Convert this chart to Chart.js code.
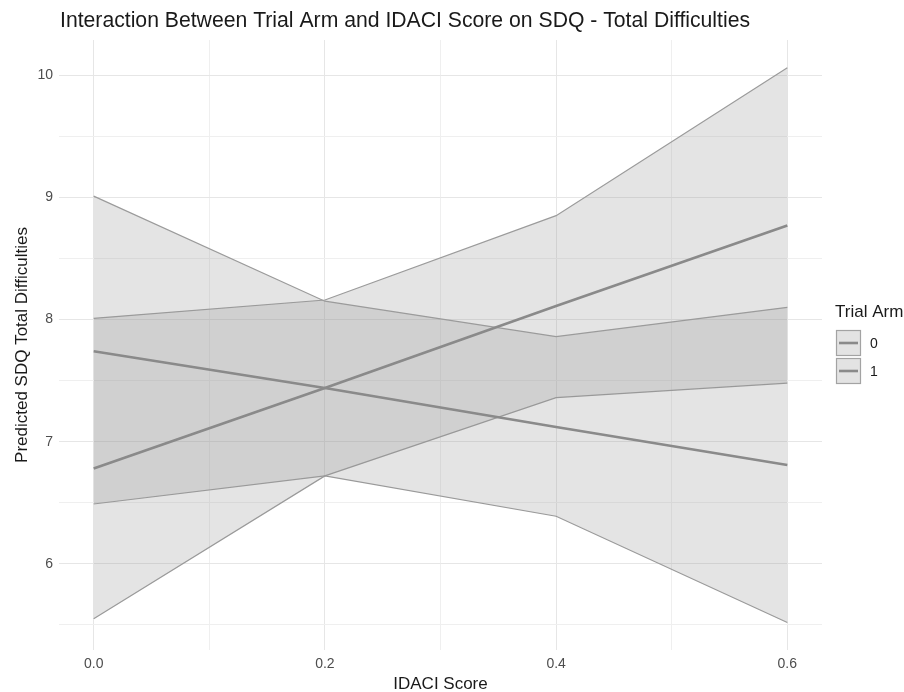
<!DOCTYPE html>
<html>
<head>
<meta charset="utf-8">
<script src="https://cdn.jsdelivr.net/npm/chart.js@4.4.1/dist/chart.umd.min.js"></script>
<style>
  body { margin: 0; background: #fff; }
  canvas { display: block; }
</style>
</head>
<body>
<canvas id="chart" width="904" height="692"></canvas>
<script>
// values
const idaci = [0, 0.2, 0.4, 0.6];
const arm0Fit = [7.74, 7.44, 7.12, 6.81];
const arm0Upper = [9.01, 8.15, 7.86, 8.10];
const arm0Lower = [6.49, 6.72, 6.39, 5.52];
const arm1Fit = [6.78, 7.44, 8.11, 8.77];
const arm1Upper = [8.01, 8.16, 8.85, 10.06];
const arm1Lower = [5.55, 6.72, 7.36, 7.48];

const armLabels = ['0', '1'];
const xGrid = [0, 0.1, 0.2, 0.3, 0.4, 0.5, 0.6];
const xTickLabels = ['0.0', '', '0.2', '', '0.4', '', '0.6'];
const yGrid = [5.5, 6, 6.5, 7, 7.5, 8, 8.5, 9, 9.5, 10];
const yTickLabels = ['', '6', '', '7', '', '8', '', '9', '', '10'];

const FONT = "'Liberation Sans', Arial, sans-serif";
const bandFill = 'rgba(151, 151, 151, 0.26)';
const bandEdge = '#9b9b9b';
const fitColor = '#8a8a8a';

function pts(ys) {
    return idaci.map((x, i) => ({ x: x, y: ys[i] }));
}

function band(ys, fillTarget) {
    return {
        data: pts(ys),
        borderColor: bandEdge,
        borderWidth: 1.2,
        backgroundColor: bandFill,
        pointRadius: 0,
        tension: 0,
        fill: fillTarget
    };
}

function fitLine(ys) {
    return {
        data: pts(ys),
        borderColor: fitColor,
        borderWidth: 2.6,
        pointRadius: 0,
        tension: 0,
        fill: false
    };
}

const titlePlugin = {
    id: 'plotTitle',
    afterDraw(chart) {
        const ctx = chart.ctx;
        ctx.save();
        ctx.fillStyle = '#1a1a1a';
        ctx.font = '21.2px ' + FONT;
        ctx.textBaseline = 'middle';
        ctx.textAlign = 'left';
        ctx.fillText('Interaction Between Trial Arm and IDACI Score on SDQ - Total Difficulties', 60, 21);
        ctx.restore();
    }
};

const legendPlugin = {
    id: 'armLegend',
    afterDraw(chart) {
        const ctx = chart.ctx;
        ctx.save();
        ctx.fillStyle = '#1a1a1a';
        ctx.font = '17px ' + FONT;
        ctx.textBaseline = 'middle';
        ctx.fillText('Trial Arm', 835, 312);
        const keyX = 836, keyW = 25, keyH = 26;
        armLabels.forEach((lab, i) => {
            const top = 330 + i * 28;
            ctx.fillStyle = '#e3e3e3';
            ctx.fillRect(keyX, top, keyW, keyH);
            ctx.strokeStyle = '#a3a3a3';
            ctx.lineWidth = 1.2;
            ctx.strokeRect(keyX + 0.5, top + 0.5, keyW - 1, keyH - 1);
            ctx.strokeStyle = fitColor;
            ctx.lineWidth = 2.6;
            ctx.beginPath();
            ctx.moveTo(keyX + 3, top + keyH / 2);
            ctx.lineTo(keyX + keyW - 3, top + keyH / 2);
            ctx.stroke();
            ctx.fillStyle = '#1a1a1a';
            ctx.font = '14px ' + FONT;
            ctx.fillText(lab, 870, top + keyH / 2 + 1);
        });
        ctx.restore();
    }
};

new Chart(document.getElementById('chart'), {
    type: 'line',
    data: {
        datasets: [
            fitLine(arm0Fit),
            fitLine(arm1Fit),
            band(arm0Upper, 3),
            band(arm0Lower, false),
            band(arm1Upper, 5),
            band(arm1Lower, false)
        ]
    },
    options: {
        responsive: false,
        animation: false,
        layout: { padding: { top: 40, right: 82, bottom: 0, left: 0 } },
        plugins: {
            legend: { display: false },
            title: { display: false },
            tooltip: { enabled: false }
        },
        scales: {
            x: {
                type: 'linear',
                min: -0.03,
                max: 0.63,
                afterBuildTicks: s => { s.ticks = xGrid.map(v => ({ value: v })); },
                afterFit: s => { s.height = 42; },
                border: { display: false },
                grid: {
                    drawTicks: false,
                    color: c => (xTickLabels[c.index] ? '#e6e6e6' : '#efefef'),
                    lineWidth: 1
                },
                ticks: {
                    autoSkip: false,
                    maxRotation: 0,
                    padding: 6,
                    color: '#4d4d4d',
                    font: { family: FONT, size: 14 },
                    callback: (v, i) => xTickLabels[i]
                },
                title: {
                    display: true,
                    text: 'IDACI Score',
                    color: '#1a1a1a',
                    font: { family: FONT, size: 17, lineHeight: 1 },
                    padding: { top: 0, bottom: -1 }
                }
            },
            y: {
                type: 'linear',
                min: 5.295,
                max: 10.288,
                afterBuildTicks: s => { s.ticks = yGrid.map(v => ({ value: v })); },
                afterFit: s => { s.width = 59; },
                border: { display: false },
                grid: {
                    drawTicks: false,
                    color: c => (yTickLabels[c.index] ? '#e6e6e6' : '#efefef'),
                    lineWidth: 1
                },
                ticks: {
                    autoSkip: false,
                    padding: 6,
                    color: '#4d4d4d',
                    font: { family: FONT, size: 14 },
                    callback: (v, i) => yTickLabels[i]
                },
                title: {
                    display: true,
                    text: 'Predicted SDQ Total Difficulties',
                    color: '#1a1a1a',
                    font: { family: FONT, size: 17 },
                    padding: { top: 12, bottom: 0 }
                }
            }
        }
    },
    plugins: [titlePlugin, legendPlugin]
});
</script>
</body>
</html>
